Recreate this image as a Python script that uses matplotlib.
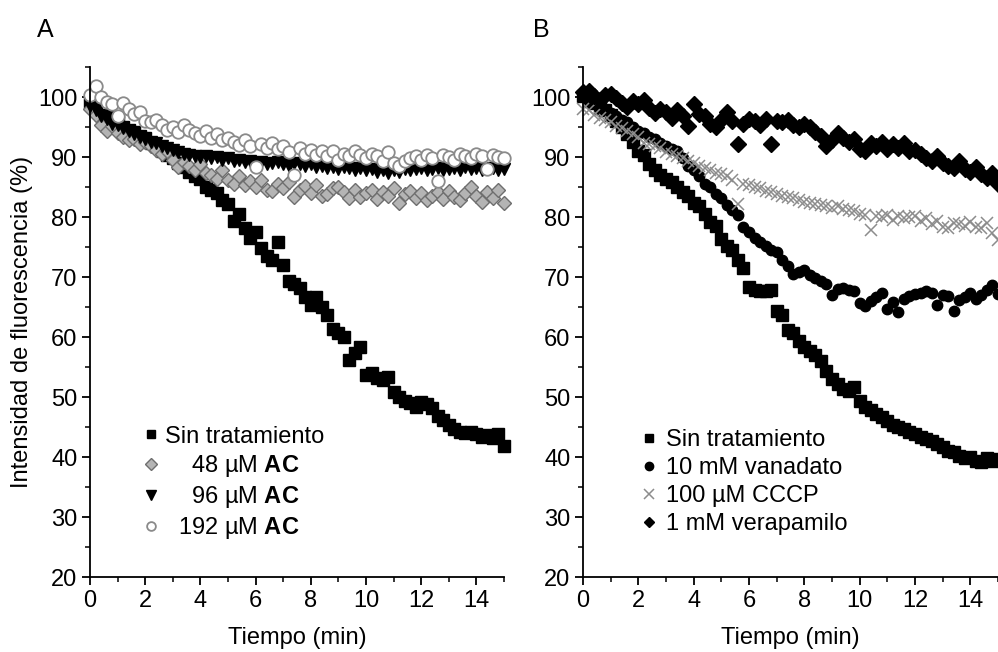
import matplotlib
matplotlib.use("Agg")
import matplotlib.pyplot as plt
from matplotlib.lines import Line2D
from matplotlib.ticker import MultipleLocator
import numpy as np

plt.rcParams['font.family'] = ['Liberation Sans', 'DejaVu Sans']
plt.rcParams['mathtext.fontset'] = 'custom'
plt.rcParams['mathtext.rm'] = 'Liberation Sans'
plt.rcParams['mathtext.bf'] = 'Liberation Sans:bold'
plt.rcParams['mathtext.it'] = 'Liberation Sans:italic'

# time axis (min), one reading every 0.2 min
tiempo = np.round(np.arange(76) * 0.2, 1)

# Panel A
sin_a = [99.0, 98.2, 97.0, 96.8, 96.0, 95.8, 95.0, 94.6, 94.2, 93.5,
         93.2, 92.4, 91.9, 91.0, 90.4, 89.8, 89.0, 88.4, 87.6, 86.8,
         86.4, 85.0, 84.6, 84.0, 82.8, 82.2, 79.4, 80.6, 78.2, 76.6,
         77.6, 74.8, 73.6, 72.8, 75.8, 72.0, 69.4, 68.8, 68.2, 66.6,
         65.3, 66.6, 65.0, 63.6, 61.4, 60.6, 60.0, 56.2, 57.4, 58.3,
         53.6, 54.0, 53.2, 52.8, 53.4, 50.8, 50.0, 49.4, 49.0, 48.4,
         49.2, 48.8, 48.2, 46.8, 46.2, 45.4, 44.6, 44.2, 44.0, 44.2,
         43.8, 43.4, 43.6, 43.2, 43.8, 41.8]
ac48 = [98.0, 97.0, 95.4, 94.4, 95.2, 94.0, 93.4, 92.8, 93.0, 92.2,
        92.6, 91.8, 91.2, 90.6, 91.0, 89.6, 88.4, 89.2, 88.6, 87.8,
        88.8, 87.4, 87.0, 86.4, 87.8, 86.2, 85.6, 86.8, 85.4, 86.0,
        85.0, 86.2, 84.6, 84.4, 85.6, 84.8, 85.8, 83.4, 84.6, 85.2,
        84.0, 85.4, 83.6, 83.9, 84.8, 85.0, 84.2, 83.2, 84.6, 83.4,
        84.0, 84.6, 83.0, 84.2, 83.6, 84.8, 82.4, 83.8, 84.4, 83.2,
        84.0, 82.8, 83.6, 84.2, 83.0, 84.4, 83.4, 82.8, 84.0, 85.0,
        83.6, 82.6, 84.2, 83.2, 84.6, 82.4]
ac96 = [98.6, 97.8, 96.8, 96.4, 95.6, 95.4, 94.8, 94.4, 93.8, 93.4,
        93.0, 92.6, 92.4, 91.8, 91.6, 91.2, 90.8, 90.6, 90.4, 90.2,
        90.0, 90.2, 89.8, 90.0, 89.6, 89.8, 89.4, 89.6, 89.2, 89.4,
        89.0, 89.2, 88.8, 89.0, 89.2, 88.8, 88.6, 89.0, 88.8, 88.6,
        88.9, 88.4, 88.6, 88.2, 88.4, 88.0, 88.4, 88.2, 87.8, 88.2,
        87.8, 88.0, 87.6, 87.8, 87.4, 87.8, 87.6, 88.0, 87.8, 88.0,
        88.2, 87.8, 88.0, 88.2, 87.8, 88.0, 88.2, 87.8, 88.4, 88.0,
        88.2, 87.8, 88.0, 88.2, 87.8, 88.0]
ac192 = [100.4, 101.8, 100.0, 99.2, 98.8, 96.8, 99.0, 98.0, 97.2, 97.6,
         96.0, 95.8, 96.2, 95.4, 94.6, 95.0, 94.2, 95.4, 94.6, 94.0,
         93.6, 94.4, 93.2, 93.8, 92.8, 93.2, 92.6, 92.0, 92.8, 91.8,
         88.4, 92.2, 91.6, 92.4, 91.4, 91.8, 90.8, 87.0, 91.6, 90.6,
         91.2, 90.4, 91.0, 90.2, 91.0, 89.6, 90.6, 90.2, 91.0, 90.4,
         89.8, 90.6, 90.2, 89.4, 90.8, 89.0, 88.6, 89.4, 89.8, 90.2,
         89.6, 90.4, 89.8, 86.0, 90.4, 90.0, 89.6, 90.6, 90.2, 89.8,
         90.6, 90.2, 88.0, 90.4, 90.0, 89.8]

# Panel B
sin_b = [100.2, 99.4, 99.0, 98.2, 97.8, 97.0, 96.0, 95.0, 93.8, 92.6,
         91.0, 90.4, 88.8, 87.8, 87.0, 86.4, 85.8, 85.0, 84.2, 83.6,
         82.4, 81.8, 80.6, 79.2, 78.6, 76.4, 75.2, 74.6, 72.8, 71.6,
         68.4, 67.8, 67.6, 67.6, 67.8, 64.4, 63.6, 61.2, 60.6, 59.4,
         58.4, 57.6, 57.0, 56.0, 54.4, 53.0, 52.2, 51.4, 51.0, 51.6,
         49.4, 48.4, 47.8, 47.2, 46.6, 46.0, 45.4, 45.0, 44.6, 44.2,
         43.8, 43.4, 43.0, 42.6, 42.2, 41.6, 41.0, 40.8, 40.2, 39.8,
         40.0, 39.4, 39.2, 39.8, 39.4, 39.6]
vanadato = [100.6, 99.8, 99.2, 98.8, 98.0, 97.4, 96.8, 96.2, 95.8, 95.0,
            94.4, 94.0, 93.4, 93.0, 92.4, 91.8, 91.4, 91.0, 89.8, 88.6,
            87.8, 86.8, 85.6, 85.0, 83.8, 83.2, 82.0, 81.2, 80.4, 78.4,
            77.6, 76.6, 75.8, 75.2, 74.6, 74.2, 72.8, 71.8, 70.6, 70.8,
            71.2, 70.4, 69.8, 69.4, 68.8, 67.0, 68.0, 68.2, 67.8, 67.6,
            65.6, 65.2, 66.0, 66.6, 67.4, 64.6, 65.8, 64.2, 66.4, 66.8,
            67.2, 67.4, 67.6, 67.4, 65.4, 67.0, 66.8, 64.4, 66.2, 66.6,
            67.4, 66.4, 67.0, 67.8, 68.6, 67.2]
cccp = [98.0, 97.8, 97.0, 96.6, 96.2, 95.8, 95.2, 94.8, 94.4, 93.8,
        93.4, 92.4, 92.2, 91.8, 91.6, 90.8, 90.6, 90.2, 89.8, 89.4,
        89.0, 88.6, 88.2, 87.8, 87.4, 87.2, 86.8, 86.2, 82.2, 85.6,
        85.4, 85.0, 84.8, 84.4, 84.2, 83.8, 83.6, 83.4, 83.2, 82.8,
        82.6, 82.4, 82.2, 82.0, 81.8, 81.6, 81.8, 81.4, 81.2, 81.0,
        80.6, 80.4, 77.8, 80.2, 80.0, 80.4, 79.6, 80.2, 79.8, 80.0,
        80.2, 79.4, 79.8, 78.8, 79.4, 78.4, 78.2, 79.0, 78.8, 78.6,
        79.2, 78.4, 78.2, 79.0, 77.4, 76.2]
verapamilo = [100.8, 101.0, 100.2, 99.6, 100.4, 100.6, 99.8, 99.0, 98.4, 99.4,
              98.8, 99.6, 98.2, 97.4, 98.0, 97.6, 96.6, 97.8, 96.8, 95.2,
              98.8, 97.2, 96.8, 95.6, 95.0, 96.2, 97.6, 96.0, 92.2, 95.6,
              96.4, 96.0, 95.4, 96.4, 92.2, 96.0, 95.8, 96.2, 95.4, 95.0,
              95.6, 95.0, 94.2, 93.6, 91.8, 92.8, 94.0, 93.2, 92.6, 93.0,
              91.4, 91.0, 92.4, 91.8, 92.6, 91.4, 92.2, 91.6, 92.4, 91.0,
              91.2, 90.6, 89.8, 89.4, 90.2, 89.0, 88.6, 88.2, 89.4, 88.0,
              87.6, 88.4, 87.2, 86.6, 87.4, 85.6]

labels_a = ["Sin tratamiento", "    48 µM $\\mathbf{AC}$",
            "    96 µM $\\mathbf{AC}$", "  192 µM $\\mathbf{AC}$"]
labels_b = ["Sin tratamiento", "10 mM vanadato", "100 µM CCCP", "1 mM verapamilo"]

FS = 17

styles_a = [
    dict(marker='s', ms=8.5, mfc='black', mec='black'),
    dict(marker='D', ms=7.5, mfc='#b4b4b4', mec='#6e6e6e', mew=1.0),
    dict(marker='v', ms=9, mfc='black', mec='black'),
    dict(marker='o', ms=9, mfc='white', mec='#8a8a8a', mew=1.3),
]
styles_b = [
    dict(marker='s', ms=8, mfc='black', mec='black'),
    dict(marker='o', ms=7.5, mfc='black', mec='black'),
    dict(marker='x', ms=9, mfc='none', mec='#8c8c8c', mew=1.1),
    dict(marker='D', ms=8, mfc='black', mec='black'),
]
legend_ms = [0.75, 0.8, 0.75, 0.7]

fig = plt.figure(figsize=(9.98, 6.52), dpi=100)
ax_a = fig.add_axes([0.0902, 0.115, 0.4148, 0.782])
ax_b = fig.add_axes([0.5842, 0.115, 0.4158, 0.782])


def style_axis(ax):
    ax.set_xlim(0, 15)
    ax.set_ylim(20, 105)
    ax.xaxis.set_major_locator(MultipleLocator(2))
    ax.xaxis.set_minor_locator(MultipleLocator(1))
    ax.yaxis.set_major_locator(MultipleLocator(10))
    ax.yaxis.set_minor_locator(MultipleLocator(5))
    for s in ['top', 'right']:
        ax.spines[s].set_visible(False)
    for s in ['left', 'bottom']:
        ax.spines[s].set_linewidth(1.3)
    ax.tick_params(which='major', direction='out', length=6, width=1.3,
                   labelsize=FS, pad=3)
    ax.tick_params(which='minor', direction='out', length=3.5, width=1.1)
    ax.set_xlabel("Tiempo (min)", fontsize=FS, labelpad=11)


for ax, series, styles, labels in [
        (ax_a, [sin_a, ac48, ac96, ac192], styles_a, labels_a),
        (ax_b, [sin_b, vanadato, cccp, verapamilo], styles_b, labels_b)]:
    style_axis(ax)
    for y, st in zip(series, styles):
        ax.plot(tiempo, y, ls='none', clip_on=False, **st)

ax_a.set_ylabel("Intensidad de fluorescencia (%)", fontsize=FS, labelpad=4)


def make_handles(styles):
    return [Line2D([], [], ls='none', marker=st['marker'], ms=st['ms'] * f,
                   mfc=st['mfc'], mec=st['mec'], mew=st.get('mew', 1.0))
            for st, f in zip(styles, legend_ms)]


ax_a.legend(make_handles(styles_a), labels_a, loc='upper left',
            bbox_to_anchor=(0.13, 0.297), frameon=False, fontsize=FS,
            handlelength=0.6, handletextpad=0.3, labelspacing=0.22,
            borderaxespad=0, borderpad=0)

ax_b.legend(make_handles(styles_b), labels_b, loc='upper left',
            bbox_to_anchor=(0.142, 0.29), frameon=False, fontsize=FS,
            handlelength=0.6, handletextpad=0.4, labelspacing=0.25,
            borderaxespad=0, borderpad=0)

fig.text(0.045, 0.954, "A", fontsize=FS + 1, ha='center', va='center')
fig.text(0.542, 0.954, "B", fontsize=FS + 1, ha='center', va='center')

fig.savefig("out.png", dpi=100)
